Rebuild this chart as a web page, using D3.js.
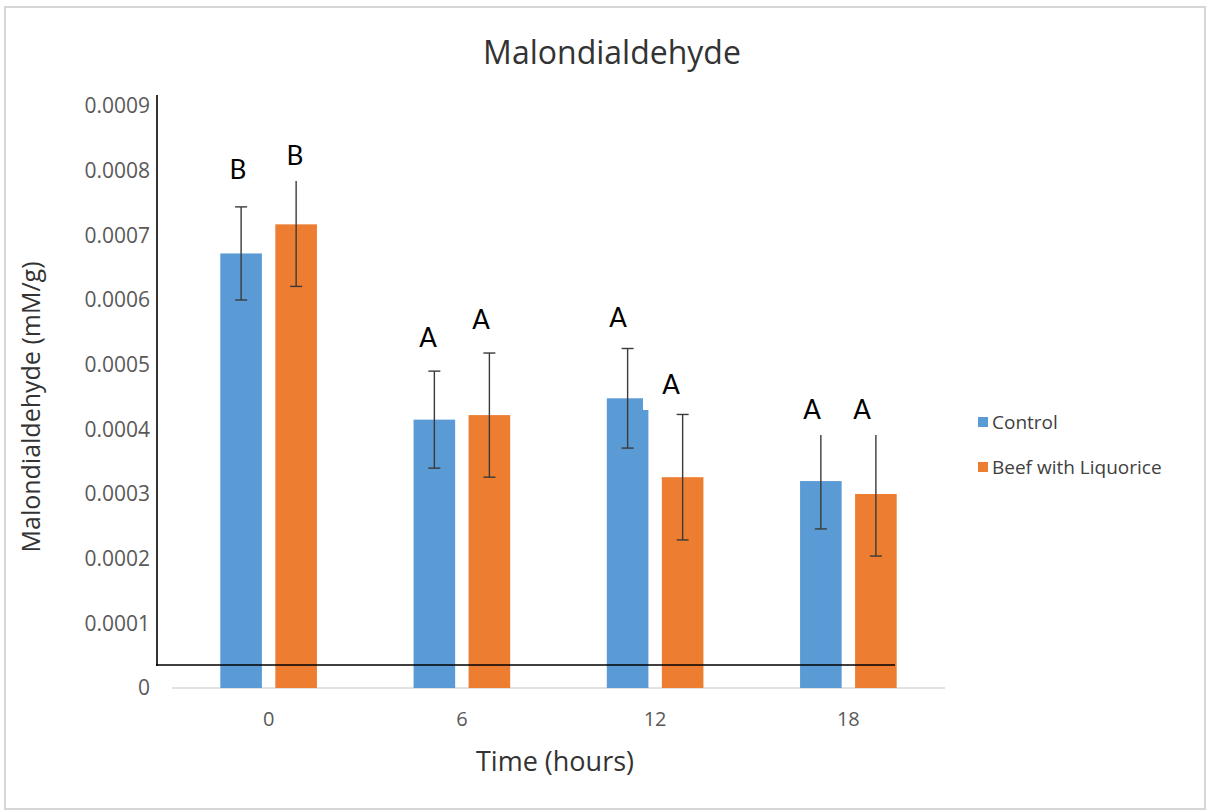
<!DOCTYPE html>
<html><head><meta charset="utf-8">
<script src="https://cdn.jsdelivr.net/npm/d3@7"></script>
<style>body{margin:0;background:#fff;}svg{display:block;}</style>
</head><body>
<script>
const categories = ["0", "6", "12", "18"];
const seriesNames = ["Control", "Beef with Liquorice"];
const controlValues = [0.000672, 0.000415, 0.000448, 0.000320];
const liquoriceValues = [0.000717, 0.000422, 0.000326, 0.000300];
const controlErrors = [0.000072, 0.000075, 0.000077, 0.000074];
const liquoriceErrors = [0.000096, 0.000096, 0.000097, 0.000096];
const controlLetters = ["B", "A", "A", "A"];
const liquoriceLetters = ["B", "A", "A", "A"];
const yTicks = [0, 0.0001, 0.0002, 0.0003, 0.0004, 0.0005, 0.0006, 0.0007, 0.0008, 0.0009];
const yTickLabels = ["0", "0.0001", "0.0002", "0.0003", "0.0004", "0.0005", "0.0006", "0.0007", "0.0008", "0.0009"];
const colors = ["#5B9BD5", "#ED7D31"];

const W = 1209, H = 812;
const svg = d3.select("body").append("svg").attr("width", W).attr("height", H);
svg.append("rect").attr("x", 5).attr("y", 7).attr("width", 1200).attr("height", 802)
  .attr("fill", "#fff").attr("stroke", "#d6d6d6").attr("stroke-width", 2);

const plot = {left: 172, right: 945, top: 106, bottom: 688};
const x = d3.scaleBand().domain(categories).range([plot.left, plot.right]).paddingInner(0.5).paddingOuter(0.25);
const xs = d3.scaleBand().domain(seriesNames).range([0, x.bandwidth()]).paddingInner(0.244);
const y = d3.scaleLinear().domain([0, 0.0009]).range([plot.bottom, plot.top]);

const font = "'Open Sans', sans-serif";
const letterFont = "Lato, sans-serif";

// title
svg.append("text").attr("x", 612).attr("y", 64).attr("text-anchor", "middle")
  .attr("font-family", font).attr("font-size", 32).attr("fill", "#333").text("Malondialdehyde");

// y tick labels
const yAxis = d3.axisLeft(y).tickValues(yTicks).tickFormat((d, i) => yTickLabels[i]).tickSize(0).tickPadding(0);
const ya = svg.append("g").attr("transform", `translate(150,0)`).call(yAxis);
ya.select(".domain").remove();
ya.selectAll("text").attr("font-family", font).attr("font-size", 21).attr("fill", "#595959");

// baseline
svg.append("line").attr("x1", plot.left).attr("x2", plot.right).attr("y1", y(0)).attr("y2", y(0))
  .attr("stroke", "#d9d9d9").attr("stroke-width", 1.5);

// x tick labels
const xAxis = d3.axisBottom(x).tickSize(0).tickPadding(0);
const xa = svg.append("g").attr("transform", `translate(0,${y(0) + 24})`).call(xAxis);
xa.select(".domain").remove();
xa.selectAll("text").attr("font-family", font).attr("font-size", 20).attr("fill", "#595959");

// axis titles
svg.append("text").attr("x", 555).attr("y", 771).attr("text-anchor", "middle")
  .attr("font-family", font).attr("font-size", 27).attr("fill", "#333").text("Time (hours)");
svg.append("text").attr("transform", "translate(40,407) rotate(-90)").attr("text-anchor", "middle")
  .attr("font-family", font).attr("font-size", 25).attr("fill", "#333").text("Malondialdehyde (mM/g)");

// data
const data = [];
categories.forEach((c, i) => {
  data.push({cat: c, s: seriesNames[0], v: controlValues[i], e: controlErrors[i], l: controlLetters[i], k: 0});
  data.push({cat: c, s: seriesNames[1], v: liquoriceValues[i], e: liquoriceErrors[i], l: liquoriceLetters[i], k: 1});
});
const bx = d => x(d.cat) + xs(d.s);
const cx = d => bx(d) + xs.bandwidth() / 2;

svg.append("g").selectAll("rect").data(data).join("rect")
  .attr("x", bx).attr("width", xs.bandwidth())
  .attr("y", d => y(d.v)).attr("height", d => y(0) - y(d.v))
  .attr("fill", d => colors[d.k]);

// error bars
const eb = svg.append("g").attr("stroke", "#3a3a3a").attr("stroke-width", 1.4);
data.forEach(d => {
  const g = eb.append("g");
  g.append("line").attr("x1", cx(d)).attr("x2", cx(d)).attr("y1", y(d.v + d.e)).attr("y2", y(d.v - d.e));
  [d.v + d.e, d.v - d.e].forEach(v => g.append("line").attr("x1", cx(d) - 6).attr("x2", cx(d) + 6).attr("y1", y(v)).attr("y2", y(v)));
});

// letter labels (pasted text boxes with white background)
const labelX = [238, 295, 428, 481, 618, 671, 812, 862];
const labelY = [170, 156, 338, 320, 318, 385, 410, 410];
const lab = svg.append("g");
data.forEach((d, i) => {
  lab.append("rect").attr("x", labelX[i] - 28).attr("y", labelY[i] - 28).attr("width", 56).attr("height", 53).attr("fill", "#fff");
});
data.forEach((d, i) => {
  lab.append("text").attr("x", labelX[i]).attr("y", labelY[i] + 9).attr("text-anchor", "middle")
    .attr("font-family", letterFont).attr("font-size", 26).attr("fill", "#000").text(d.l);
});

// hand-drawn axis lines
svg.append("line").attr("x1", 157).attr("x2", 157).attr("y1", 95).attr("y2", 666).attr("stroke", "#000").attr("stroke-width", 1.6);
svg.append("line").attr("x1", 156).attr("x2", 895).attr("y1", 665).attr("y2", 665).attr("stroke", "#000").attr("stroke-width", 1.6);

// legend
const leg = svg.append("g").attr("transform", "translate(978,422)");
seriesNames.forEach((s, i) => {
  const g = leg.append("g").attr("transform", `translate(0,${i * 45})`);
  g.append("rect").attr("x", 0).attr("y", -5).attr("width", 10).attr("height", 10).attr("fill", colors[i]);
  g.append("text").attr("x", 14).attr("y", 7).attr("font-family", font).attr("font-size", 19).attr("fill", "#404040").text(s);
});
</script>
</body></html>
